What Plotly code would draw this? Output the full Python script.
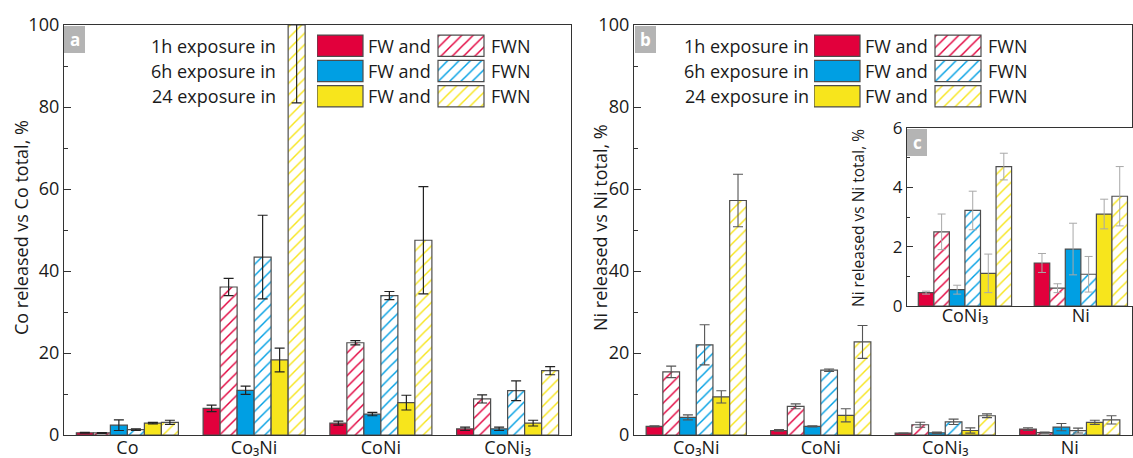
import plotly.graph_objects as go

W, H = 1133, 458

# ---------------- data ----------------
categories_co = ["Co", "Co₃Ni", "CoNi", "CoNi₃"]
categories_ni = ["Co₃Ni", "CoNi", "CoNi₃", "Ni"]
inset_categories = ["CoNi₃", "Ni"]

series_names = ["1h FW", "1h FWN", "6h FW", "6h FWN", "24h FW", "24h FWN"]
row_labels = ["1h exposure in", "6h exposure in", "24 exposure in"]

# Co released vs Co total, %
co_fw_1h = [0.55, 6.5, 2.9, 1.5]
co_fw_1h_err = [0.1, 0.8, 0.5, 0.4]
co_fwn_1h = [0.5, 36.1, 22.5, 8.8]
co_fwn_1h_err = [0.1, 2.1, 0.5, 1.0]
co_fw_6h = [2.4, 10.9, 5.1, 1.5]
co_fw_6h_err = [1.3, 1.0, 0.4, 0.4]
co_fwn_6h = [1.3, 43.4, 34.0, 10.8]
co_fwn_6h_err = [0.2, 10.2, 1.0, 2.4]
co_fw_24h = [2.9, 18.3, 7.9, 2.9]
co_fw_24h_err = [0.2, 2.9, 1.8, 0.7]
co_fwn_24h = [3.1, 100.0, 47.5, 15.7]
co_fwn_24h_err = [0.5, 19.0, 13.1, 1.0]

# Ni released vs Ni total, %
ni_fw_1h = [2.1, 1.1, 0.45, 1.45]
ni_fw_1h_err = [0.15, 0.2, 0.05, 0.32]
ni_fwn_1h = [15.4, 7.0, 2.5, 0.6]
ni_fwn_1h_err = [1.4, 0.6, 0.6, 0.15]
ni_fw_6h = [4.3, 2.1, 0.55, 1.92]
ni_fw_6h_err = [0.6, 0.15, 0.15, 0.87]
ni_fwn_6h = [22.0, 15.8, 3.22, 1.07]
ni_fwn_6h_err = [4.9, 0.3, 0.65, 0.6]
ni_fw_24h = [9.3, 4.8, 1.1, 3.1]
ni_fw_24h_err = [1.5, 1.6, 0.65, 0.5]
ni_fwn_24h = [57.2, 22.7, 4.7, 3.7]
ni_fwn_24h_err = [6.4, 4.0, 0.45, 1.0]

co_values = [co_fw_1h, co_fwn_1h, co_fw_6h, co_fwn_6h, co_fw_24h, co_fwn_24h]
co_errors = [co_fw_1h_err, co_fwn_1h_err, co_fw_6h_err, co_fwn_6h_err, co_fw_24h_err, co_fwn_24h_err]
ni_values = [ni_fw_1h, ni_fwn_1h, ni_fw_6h, ni_fwn_6h, ni_fw_24h, ni_fwn_24h]
ni_errors = [ni_fw_1h_err, ni_fwn_1h_err, ni_fw_6h_err, ni_fwn_6h_err, ni_fw_24h_err, ni_fwn_24h_err]

# ---------------- style ----------------
FONT = "Open Sans"
TXT = "#1a1a1a"
RED, BLUE, YELLOW = "#e2003c", "#009fe3", "#f7e51c"
colors = [RED, RED, BLUE, BLUE, YELLOW, YELLOW]
hatched = [False, True, False, True, False, True]
OUTLINE = "#4d4d4d"
LABEL_BOX = "#b4b4b4"


def px_x(p):
    return p / W


def px_y(p):
    return 1 - p / H


def marker_for(i):
    m = dict(line=dict(color=OUTLINE, width=1.2))
    if hatched[i]:
        m["color"] = "white"
        m["pattern"] = dict(shape="/", fgcolor=colors[i], bgcolor="white",
                            size=8, solidity=0.18, fillmode="replace")
    else:
        m["color"] = colors[i]
    return m


fig = go.Figure()

# main panels
for i in range(6):
    fig.add_trace(go.Bar(
        x=categories_co, y=co_values[i], name=series_names[i],
        marker=marker_for(i), xaxis="x", yaxis="y", offsetgroup=str(i),
        error_y=dict(type="data", array=co_errors[i], color="#222222",
                     thickness=1.2, width=5),
    ))
for i in range(6):
    fig.add_trace(go.Bar(
        x=categories_ni, y=ni_values[i], name=series_names[i],
        marker=marker_for(i), xaxis="x2", yaxis="y2", offsetgroup=str(i),
        error_y=dict(type="data", array=ni_errors[i], color="#555555",
                     thickness=1.1, width=5),
    ))
# inset (CoNi3, Ni)
for i in range(6):
    fig.add_trace(go.Bar(
        x=inset_categories, y=ni_values[i][2:], name=series_names[i],
        marker=marker_for(i), xaxis="x3", yaxis="y3", offsetgroup=str(i),
        error_y=dict(type="data", array=ni_errors[i][2:], color="#a8a8a8",
                     thickness=1.0, width=4),
    ))

# legend swatches (drawn as bars on helper axes so the hatch matches)
SW_LEN, SW_GAP = 46, 121
for ax_x, ax_y in (("x4", "y4"), ("x5", "y5")):
    for r in range(3):
        for j, base in ((0, 0), (1, SW_GAP)):
            i = 2 * r + j
            fig.add_trace(go.Bar(
                y=[r], x=[SW_LEN], base=[base], orientation="h",
                width=0.84, offset=-0.42, offsetgroup="lg",
                marker=marker_for(i), xaxis=ax_x, yaxis=ax_y,
                hoverinfo="skip",
            ))

# ---------------- axes ----------------
plot_top, plot_bot = 25, 435
main_ydom = [px_y(plot_bot), px_y(plot_top)]

common_y = dict(
    showgrid=False, zeroline=False, showline=True, linecolor="#333333",
    linewidth=1.3, mirror=True, ticks="inside", ticklen=7, tickwidth=1.2,
    tickcolor="#333333", tickfont=dict(size=18, family=FONT, color=TXT),
    automargin=False,
    minor=dict(ticks="inside", ticklen=4, tickwidth=1.1, tickcolor="#333333"),
)
common_x = dict(
    showgrid=False, zeroline=False, showline=True, linecolor="#333333",
    linewidth=1.3, mirror=True, ticks="", type="category", automargin=False,
    tickfont=dict(size=18, family=FONT, color=TXT), ticklabelstandoff=-4,
)

hidden = dict(visible=False, showgrid=False, zeroline=False, fixedrange=True,
              automargin=False)

leg_top, leg_rows_h = 33, 76
leg_ydom = [px_y(leg_top + leg_rows_h), px_y(leg_top)]
leg_a_x0, leg_b_x0, leg_w = 317, 814, 220
row_centers_px = [leg_top + leg_rows_h / 3 * (r + 0.5) for r in range(3)]

fig.update_layout(
    width=W, height=H,
    margin=dict(l=0, r=0, t=0, b=0, pad=0, autoexpand=False),
    paper_bgcolor="white", plot_bgcolor="white",
    showlegend=False, barmode="group", bargap=0.195, bargroupgap=0,
    font=dict(family=FONT, color=TXT),
    xaxis=dict(common_x, domain=[px_x(64), px_x(571)], range=[-0.5, 3.5],
               anchor="y"),
    yaxis=dict(common_y, domain=main_ydom, range=[0, 100], dtick=20,
               anchor="x", minor=dict(common_y["minor"], dtick=10)),
    xaxis2=dict(common_x, domain=[px_x(634), px_x(1132)], range=[-0.5, 3.5],
                anchor="y2"),
    yaxis2=dict(common_y, domain=main_ydom, range=[0, 100], dtick=20,
                anchor="x2", minor=dict(common_y["minor"], dtick=10)),
    xaxis3=dict(common_x, domain=[px_x(907), 1.0], range=[-0.5, 1.45],
                anchor="y3", ticklabelstandoff=-7,
                tickfont=dict(size=18, family=FONT, color=TXT)),
    yaxis3=dict(common_y, domain=[px_y(306), px_y(128)], range=[0, 6], dtick=2,
                anchor="x3", ticklen=6, tickfont=dict(size=17, family=FONT, color=TXT),
                minor=dict(common_y["minor"], dtick=1, ticklen=3)),
    xaxis4=dict(hidden, domain=[px_x(leg_a_x0), px_x(leg_a_x0 + leg_w)],
                range=[0, leg_w], anchor="y4"),
    yaxis4=dict(hidden, domain=leg_ydom, range=[2.5, -0.5], anchor="x4"),
    xaxis5=dict(hidden, domain=[px_x(leg_b_x0), px_x(leg_b_x0 + leg_w)],
                range=[0, leg_w], anchor="y5"),
    yaxis5=dict(hidden, domain=leg_ydom, range=[2.5, -0.5], anchor="x5"),
)

# ---------------- annotations ----------------
ann = []
shapes = []
for x0, lab_off in ((leg_a_x0, -39), (leg_b_x0, -3)):
    for r in range(3):
        yc = px_y(row_centers_px[r])
        ann.append(dict(xref="paper", yref="paper", x=px_x(x0 + lab_off), y=yc,
                        text=row_labels[r], xanchor="right", yanchor="middle",
                        showarrow=False, font=dict(size=18, family=FONT, color=TXT)))
        ann.append(dict(xref="paper", yref="paper", x=px_x(x0 + SW_LEN + 3), y=yc,
                        text="FW and", xanchor="left", yanchor="middle",
                        showarrow=False, font=dict(size=18, family=FONT, color=TXT)))
        ann.append(dict(xref="paper", yref="paper", x=px_x(x0 + SW_GAP + SW_LEN + 5),
                        y=yc, text="FWN", xanchor="left", yanchor="middle",
                        showarrow=False, font=dict(size=18, family=FONT, color=TXT)))

# axis titles
ann.append(dict(xref="paper", yref="paper", x=px_x(21), y=px_y(228),
                text="Co released vs Co total, %", textangle=-90, showarrow=False,
                xanchor="center", yanchor="middle",
                font=dict(size=18, family=FONT, color=TXT)))
ann.append(dict(xref="paper", yref="paper", x=px_x(600), y=px_y(228),
                text="Ni released vs Ni total, %", textangle=-90, showarrow=False,
                xanchor="center", yanchor="middle",
                font=dict(size=18, family=FONT, color=TXT)))
ann.append(dict(xref="paper", yref="paper", x=px_x(858), y=px_y(218),
                text="Ni released vs Ni total, %", textangle=-90, showarrow=False,
                xanchor="center", yanchor="middle",
                font=dict(size=15.5, family=FONT, color=TXT)))

# panel letters
for letter, x0, y0, x1, y1 in (("a", 64, 26, 85, 53), ("b", 635, 26, 656, 53),
                                ("c", 907, 129, 927, 156)):
    shapes.append(dict(type="rect", xref="paper", yref="paper",
                       x0=px_x(x0), x1=px_x(x1), y0=px_y(y1), y1=px_y(y0),
                       fillcolor=LABEL_BOX, line=dict(width=0), layer="above"))
    ann.append(dict(xref="paper", yref="paper", x=px_x((x0 + x1) / 2),
                    y=px_y((y0 + y1) / 2), text="<b>%s</b>" % letter,
                    showarrow=False, xanchor="center", yanchor="middle",
                    font=dict(size=17, family=FONT, color="white")))

fig.update_layout(annotations=ann, shapes=shapes)

fig.write_html("out.html")
